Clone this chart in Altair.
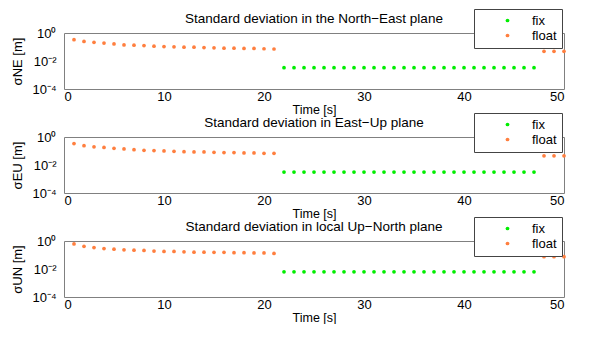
import altair as alt
import pandas as pd

# time stamps [s]
t_float_a = list(range(1, 22))
t_fix = list(range(22, 48))
t_float_b = [48, 49, 50]

# North-East plane
ne_float_a = [0.33, 0.25, 0.215, 0.19, 0.165, 0.14, 0.134, 0.127, 0.114, 0.108, 0.103,
              0.097, 0.097, 0.092, 0.088, 0.083, 0.083, 0.079, 0.079, 0.075, 0.072]
ne_fix = [0.0033] * len(t_fix)
ne_float_b = [0.049, 0.049, 0.049]

# East-Up plane
eu_float_a = [0.34, 0.24, 0.2, 0.18, 0.155, 0.14, 0.125, 0.113, 0.107, 0.101, 0.095,
              0.09, 0.085, 0.085, 0.081, 0.077, 0.077, 0.073, 0.073, 0.069, 0.069]
eu_fix = [0.0031] * len(t_fix)
eu_float_b = [0.045, 0.045, 0.045]

# Up-North plane
un_float_a = [0.62, 0.42, 0.34, 0.29, 0.26, 0.235, 0.22, 0.21, 0.19, 0.18, 0.18,
              0.17, 0.16, 0.16, 0.155, 0.155, 0.145, 0.145, 0.14, 0.14, 0.13]
un_fix = [0.0063] * len(t_fix)
un_float_b = [0.076, 0.076, 0.076]

titles = [
    "Standard deviation in the North\u2212East plane",
    "Standard deviation in East\u2212Up plane",
    "Standard deviation in local Up\u2212North plane",
]
ytitles = ["\u03c3NE [m]", "\u03c3EU [m]", "\u03c3UN [m]"]
series = [
    (ne_float_a, ne_fix, ne_float_b),
    (eu_float_a, eu_fix, eu_float_b),
    (un_float_a, un_fix, un_float_b),
]

FIX_COLOR = "#00ee00"
FLOAT_COLOR = "#ff7f3f"


def build_df(fa, fx, fb):
    rows = []
    for t, v in zip(t_fix, fx):
        rows.append({"t": t, "v": v, "mode": "fix"})
    for t, v in zip(t_float_a, fa):
        rows.append({"t": t, "v": v, "mode": "float"})
    for t, v in zip(t_float_b, fb):
        rows.append({"t": t, "v": v, "mode": "float"})
    return pd.DataFrame(rows)


def panel(title, ytitle, data):
    return (
        alt.Chart(data, title=alt.TitleParams(title, offset=-17))
        .mark_circle(size=14, opacity=1)
        .encode(
            x=alt.X("t:Q", scale=alt.Scale(domain=[0, 50], nice=False),
                    axis=alt.Axis(title="Time [s]", values=[0, 10, 20, 30, 40, 50])),
            y=alt.Y("v:Q", scale=alt.Scale(type="log", domain=[1e-4, 1], nice=False),
                    axis=alt.Axis(title=ytitle, values=[1e-4, 1e-2, 1],
                                  labelExpr="datum.value >= 0.5 ? '10\u2070' : (datum.value >= 0.005 ? '10\u207b\u00b2' : '10\u207b\u2074')")),
            color=alt.Color("mode:N",
                            scale=alt.Scale(domain=["fix", "float"], range=[FIX_COLOR, FLOAT_COLOR]),
                            legend=alt.Legend(title=None, orient="none", legendX=410, legendY=-24,
                                              strokeColor="#444", fillColor="white", padding=5,
                                              symbolOffset=22, labelOffset=18, symbolSize=14,
                                              labelFontSize=13, rowPadding=1)),
        )
        .properties(width=500, height=56)
    )


charts = [panel(titles[i], ytitles[i], build_df(*series[i])) for i in range(3)]

chart = (
    alt.vconcat(*charts, spacing=48, bounds="flush")
    .resolve_legend(color="independent")
    .properties(padding={"left": 3, "top": 0, "right": 0, "bottom": 0})
    .configure(font="Liberation Sans")
    .configure_view(stroke="#808080", strokeWidth=1)
    .configure_axis(grid=False, domain=False, ticks=False, labelFontSize=13, titleFontSize=13,
                    titleFontWeight="normal", labelColor="black", titleColor="black")
    .configure_axisX(labelPadding=1, titlePadding=0, titleFontSize=12.5)
    .configure_axisY(labelPadding=8, titlePadding=7)
    .configure_title(fontSize=13.5, fontWeight="normal", anchor="middle", color="black")
    .configure_legend(labelColor="black")
)

chart.save("out.html", embed_options={"renderer": "svg", "actions": False})
